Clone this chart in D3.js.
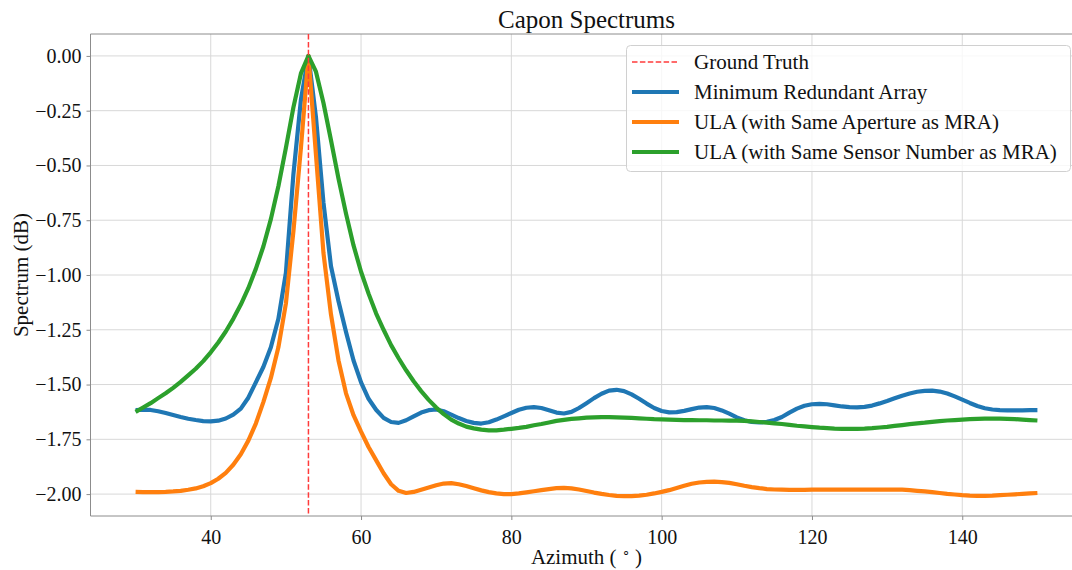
<!DOCTYPE html>
<html>
<head>
<meta charset="utf-8">
<script src="https://cdn.jsdelivr.net/npm/d3@7"></script>
<style>
  html, body { margin: 0; padding: 0; background: #fff; }
  svg { display: block; font-family: "Liberation Serif", "Times New Roman", serif; }
</style>
</head>
<body>
<svg id="chart" width="1072" height="570"></svg>
<script>
// Azimuth sample grid (degrees), one sample per degree
const azimuth = d3.range(30, 151);
const groundTruth = 53;

// Normalised Capon spectra (dB), 30..150 degrees
const mra = [
  -1.617, -1.615, -1.616, -1.622, -1.630, -1.639, -1.648, -1.656, -1.662, -1.667,
  -1.668, -1.665, -1.655, -1.637, -1.610, -1.560, -1.490, -1.420, -1.330, -1.200,
  -0.990, -0.540, -0.200, 0.000, -0.280, -0.670, -0.960, -1.120, -1.260, -1.390,
  -1.490, -1.565, -1.615, -1.652, -1.671, -1.675, -1.663, -1.645, -1.628, -1.617,
  -1.614, -1.622, -1.637, -1.653, -1.666, -1.675, -1.678, -1.672, -1.660, -1.645,
  -1.630, -1.615, -1.606, -1.603, -1.607, -1.617, -1.628, -1.632, -1.625, -1.607,
  -1.585, -1.562, -1.542, -1.528, -1.524, -1.530, -1.545, -1.565, -1.587, -1.607,
  -1.621, -1.627, -1.626, -1.620, -1.612, -1.605, -1.603, -1.607, -1.618, -1.633,
  -1.650, -1.663, -1.671, -1.673, -1.670, -1.662, -1.648, -1.628, -1.610, -1.597,
  -1.590, -1.588, -1.590, -1.595, -1.600, -1.603, -1.604, -1.602, -1.596, -1.586,
  -1.575, -1.563, -1.551, -1.541, -1.533, -1.529, -1.528, -1.532, -1.541, -1.554,
  -1.569, -1.584, -1.598, -1.608, -1.614, -1.617, -1.618, -1.618, -1.618, -1.617,
  -1.617
];

const ulaSameAperture = [
  -1.990, -1.991, -1.991, -1.991, -1.990, -1.988, -1.985, -1.980, -1.974, -1.964,
  -1.950, -1.930, -1.903, -1.866, -1.818, -1.756, -1.678, -1.580, -1.470, -1.330,
  -1.130, -0.800, -0.420, 0.000, -0.450, -0.900, -1.180, -1.390, -1.540, -1.640,
  -1.715, -1.785, -1.845, -1.905, -1.955, -1.985, -1.995, -1.990, -1.980, -1.970,
  -1.960, -1.952, -1.950, -1.955, -1.963, -1.973, -1.983, -1.991, -1.997, -2.000,
  -2.000, -1.997, -1.992, -1.987, -1.982, -1.977, -1.973, -1.972, -1.974, -1.979,
  -1.986, -1.993, -1.999, -2.004, -2.008, -2.009, -2.009, -2.007, -2.003, -1.997,
  -1.990, -1.982, -1.972, -1.962, -1.953, -1.947, -1.944, -1.943, -1.945, -1.949,
  -1.955, -1.962, -1.968, -1.973, -1.977, -1.979, -1.980, -1.981, -1.981, -1.981,
  -1.980, -1.980, -1.980, -1.980, -1.980, -1.980, -1.980, -1.980, -1.980, -1.980,
  -1.980, -1.980, -1.980, -1.982, -1.985, -1.988, -1.991, -1.995, -1.999, -2.002,
  -2.005, -2.007, -2.008, -2.008, -2.007, -2.005, -2.003, -2.001, -1.999, -1.997,
  -1.995
];

const ulaSameSensors = [
  -1.625, -1.605, -1.585, -1.562, -1.540, -1.515, -1.488, -1.458, -1.428, -1.393,
  -1.353, -1.308, -1.258, -1.200, -1.135, -1.060, -0.972, -0.870, -0.745, -0.595,
  -0.420, -0.235, -0.080, 0.000, -0.072, -0.215, -0.385, -0.560, -0.720, -0.865,
  -0.985, -1.085, -1.175, -1.250, -1.320, -1.380, -1.435, -1.485, -1.530, -1.570,
  -1.605, -1.635, -1.660, -1.678, -1.692, -1.700, -1.706, -1.709, -1.709, -1.706,
  -1.702, -1.698, -1.693, -1.686, -1.680, -1.673, -1.666, -1.661, -1.657, -1.654,
  -1.651, -1.650, -1.649, -1.649, -1.650, -1.651, -1.652, -1.654, -1.656, -1.658,
  -1.659, -1.660, -1.661, -1.662, -1.662, -1.663, -1.663, -1.664, -1.664, -1.665,
  -1.665, -1.666, -1.668, -1.671, -1.674, -1.677, -1.680, -1.684, -1.688, -1.691,
  -1.694, -1.697, -1.699, -1.701, -1.702, -1.702, -1.702, -1.701, -1.699, -1.696,
  -1.693, -1.689, -1.685, -1.681, -1.677, -1.674, -1.670, -1.667, -1.664, -1.662,
  -1.660, -1.658, -1.657, -1.656, -1.656, -1.656, -1.657, -1.658, -1.660, -1.662,
  -1.664
];

const xTicks = [40, 60, 80, 100, 120, 140];
const yTicks = [0, -0.25, -0.5, -0.75, -1.0, -1.25, -1.5, -1.75, -2.0];

const seriesNames = [
  "Minimum Redundant Array",
  "ULA (with Same Aperture as MRA)",
  "ULA (with Same Sensor Number as MRA)"
];
const seriesColors = ["#1f77b4", "#ff7f0e", "#2ca02c"];
const seriesValues = [mra, ulaSameAperture, ulaSameSensors];

// ---- layout ----
const svg = d3.select("#chart");
const plot = { left: 90.5, right: 1082.5, top: 34, bottom: 516 };

const x = d3.scaleLinear().domain([24, 156]).range([plot.left, plot.right]);
const y = d3.scaleLinear().domain([-2.1, 0.1]).range([plot.bottom, plot.top]);

const spineColor = "#8c8c8c";
const gridColor = "#d8d8d8";
const textColor = "#111";

svg.append("defs").append("clipPath").attr("id", "plot-clip")
  .append("rect")
  .attr("x", plot.left).attr("y", plot.top)
  .attr("width", plot.right - plot.left).attr("height", plot.bottom - plot.top);

// grid
const grid = svg.append("g");
grid.selectAll(".gx").data(xTicks).join("line")
  .attr("x1", d => x(d)).attr("x2", d => x(d))
  .attr("y1", plot.top).attr("y2", plot.bottom)
  .attr("stroke", gridColor).attr("stroke-width", 1);
grid.selectAll(".gy").data(yTicks).join("line")
  .attr("x1", plot.left).attr("x2", plot.right)
  .attr("y1", d => y(d)).attr("y2", d => y(d))
  .attr("stroke", gridColor).attr("stroke-width", 1);

// axes
const fmtY = v => d3.format(".2f")(v).replace("-", "\u2212");
const xAxis = d3.axisBottom(x).tickValues(xTicks).tickSize(4).tickPadding(5).tickFormat(d3.format("d"));
const yAxis = d3.axisLeft(y).tickValues(yTicks).tickSize(4).tickPadding(5).tickFormat(fmtY);

const gx = svg.append("g").attr("transform", `translate(0,${plot.bottom})`).call(xAxis);
const gy = svg.append("g").attr("transform", `translate(${plot.left},0)`).call(yAxis);
[gx, gy].forEach(g => {
  g.select(".domain").remove();
  g.selectAll(".tick line").attr("stroke", spineColor);
  g.selectAll(".tick text")
    .attr("fill", textColor)
    .attr("font-size", 20)
    .attr("font-family", "Liberation Serif, Times New Roman, serif");
});
gx.selectAll(".tick text").attr("dy", "0.95em");

// spines
const spines = svg.append("g").attr("stroke", spineColor).attr("stroke-width", 1).attr("fill", "none");
spines.append("line").attr("x1", plot.left).attr("x2", plot.left).attr("y1", plot.top).attr("y2", plot.bottom);
spines.append("line").attr("x1", plot.left).attr("x2", plot.right).attr("y1", plot.bottom).attr("y2", plot.bottom);
spines.append("line").attr("x1", plot.left).attr("x2", plot.right).attr("y1", plot.top).attr("y2", plot.top);
spines.append("line").attr("x1", plot.right).attr("x2", plot.right).attr("y1", plot.top).attr("y2", plot.bottom);

// spectrum curves
const line = d3.line()
  .x((d, i) => x(azimuth[i]))
  .y(d => y(d))
  .curve(d3.curveLinear);

const curves = svg.append("g").attr("clip-path", "url(#plot-clip)");
seriesValues.forEach((vals, k) => {
  curves.append("path")
    .datum(vals)
    .attr("d", line)
    .attr("fill", "none")
    .attr("stroke", seriesColors[k])
    .attr("stroke-width", 4.2)
    .attr("stroke-linejoin", "round")
    .attr("stroke-linecap", "butt");
});

// ground-truth direction
curves.append("line")
  .attr("x1", x(groundTruth)).attr("x2", x(groundTruth))
  .attr("y1", plot.top).attr("y2", plot.bottom)
  .attr("stroke", "#ff3b3b")
  .attr("stroke-width", 1.5)
  .attr("stroke-dasharray", "5.5,2.4");

// title
svg.append("text")
  .attr("x", (plot.left + plot.right) / 2).attr("y", 28)
  .attr("text-anchor", "middle")
  .attr("font-size", 25).attr("fill", textColor)
  .text("Capon Spectrums");

// axis labels
const xl = svg.append("text")
  .attr("x", (plot.left + plot.right) / 2).attr("y", 564)
  .attr("text-anchor", "middle")
  .attr("font-size", 21).attr("fill", textColor);
xl.append("tspan").text("Azimuth ( ");
xl.append("tspan").attr("font-size", 13).attr("dy", -8).text("\u2218");
xl.append("tspan").attr("dy", 8).text(" )");

svg.append("text")
  .attr("transform", `translate(28,${(plot.top + plot.bottom) / 2}) rotate(-90)`)
  .attr("text-anchor", "middle")
  .attr("font-size", 21).attr("fill", textColor)
  .text("Spectrum (dB)");

// legend
const legend = svg.append("g");
legend.append("rect")
  .attr("x", 626.5).attr("y", 45.5)
  .attr("width", 444).attr("height", 126)
  .attr("rx", 4).attr("ry", 4)
  .attr("fill", "#fff").attr("fill-opacity", 0.8)
  .attr("stroke", "#d0d0d0").attr("stroke-width", 1);

const legendItems = [
  { name: "Ground Truth", color: "#ff3b3b", dash: "5.5,2.4", width: 1.5 }
].concat(seriesNames.map((n, i) => ({ name: n, color: seriesColors[i], dash: null, width: 4.2 })));

legendItems.forEach((it, i) => {
  const cy = 62 + i * 30;
  legend.append("line")
    .attr("x1", 632).attr("x2", 679)
    .attr("y1", cy).attr("y2", cy)
    .attr("stroke", it.color)
    .attr("stroke-width", it.width)
    .attr("stroke-dasharray", it.dash);
  legend.append("text")
    .attr("x", 694).attr("y", cy + 7)
    .attr("font-size", 21).attr("fill", textColor)
    .text(it.name);
});
</script>
</body>
</html>
